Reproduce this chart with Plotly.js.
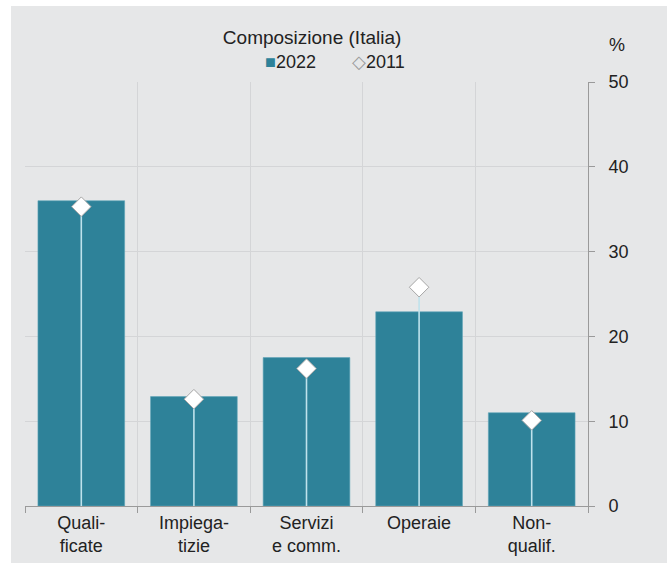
<!DOCTYPE html>
<html>
<head>
<meta charset="utf-8">
<script src="https://cdn.plot.ly/plotly-3.0.1.min.js"></script>
<style>
html,body{margin:0;padding:0;background:#ffffff;}
#chart{position:absolute;left:11px;top:6px;width:656px;height:557px;}
</style>
</head>
<body>
<div id="chart"></div>
<script>
const categories = ["Quali-<br>ficate", "Impiega-<br>tizie", "Servizi<br>e comm.", "Operaie", "Non-<br>qualif."];
const values2022 = [36.0, 12.9, 17.5, 22.9, 11.0];
const values2011 = [35.3, 12.6, 16.2, 25.8, 10.1];
const seriesNames = ["2022", "2011"];
const titleText = "Composizione (Italia)";

const FONT = "Liberation Sans, Arial, sans-serif";
const TXT = "#222222";
const BAR = "#2e8299";

const traces = [
  {
    type: "bar",
    name: seriesNames[0],
    x: categories,
    y: values2022,
    width: 0.77,
    marker: {color: BAR, line: {color: "#5fa5b8", width: 0.6}},
    showlegend: false,
    hoverinfo: "y"
  },
  {
    type: "scatter",
    mode: "markers",
    name: seriesNames[1],
    x: categories,
    y: values2011,
    marker: {symbol: "diamond", size: 15, color: "#ffffff", line: {color: "#a6a6a6", width: 1}},
    error_y: {
      type: "data", symmetric: false,
      array: values2011.map(() => 0),
      arrayminus: values2011,
      color: "#bfe2ec", thickness: 1.6, width: 0
    },
    showlegend: false,
    hoverinfo: "y"
  }
];

const layout = {
  width: 656, height: 557,
  paper_bgcolor: "#e6e7e8",
  plot_bgcolor: "#e6e7e8",
  margin: {l: 14, r: 79, t: 76, b: 57},
  font: {family: FONT, color: TXT, size: 18},
  title: {
    text: titleText,
    font: {family: FONT, size: 19, color: TXT},
    x: 0.459, xref: "container", xanchor: "center",
    y: 0.944, yref: "container", yanchor: "middle"
  },
  showlegend: false,
  bargap: 0.23,
  xaxis: {
    type: "category",
    tickson: "boundaries",
    showgrid: true, gridcolor: "#d4d5d7", gridwidth: 1,
    showline: true, linecolor: "#9a9a9a", linewidth: 1,
    ticks: "outside", ticklen: 6, tickcolor: "#9a9a9a",
    tickfont: {family: FONT, size: 18, color: TXT},
    fixedrange: true
  },
  yaxis: {
    side: "right",
    range: [0, 50], dtick: 10, tick0: 0,
    showgrid: true, gridcolor: "#d4d5d7", gridwidth: 1,
    zeroline: false,
    showline: true, linecolor: "#9a9a9a", linewidth: 1,
    ticks: "outside", ticklen: 6, tickcolor: "#9a9a9a",
    ticklabelstandoff: 10,
    tickfont: {family: FONT, size: 18, color: TXT},
    fixedrange: true
  },
  annotations: [
    {
      text: "%", xref: "paper", yref: "paper",
      x: 1.051, y: 1.087, xanchor: "center", yanchor: "middle",
      showarrow: false, font: {family: FONT, size: 18, color: TXT}
    },
    {
      text: '<span style="color:' + BAR + ';font-size:18px">■</span>' + seriesNames[0],
      xref: "paper", yref: "paper",
      x: 0.471, y: 1.047, xanchor: "center", yanchor: "middle",
      showarrow: false, font: {family: FONT, size: 18, color: TXT}
    },
    {
      text: '<span style="color:#9a9a9a;font-size:18px">◇</span>' + seriesNames[1],
      xref: "paper", yref: "paper",
      x: 0.627, y: 1.047, xanchor: "center", yanchor: "middle",
      showarrow: false, font: {family: FONT, size: 18, color: TXT}
    }
  ]
};

Plotly.newPlot("chart", traces, layout, {displayModeBar: false, staticPlot: true});
</script>
</body>
</html>
